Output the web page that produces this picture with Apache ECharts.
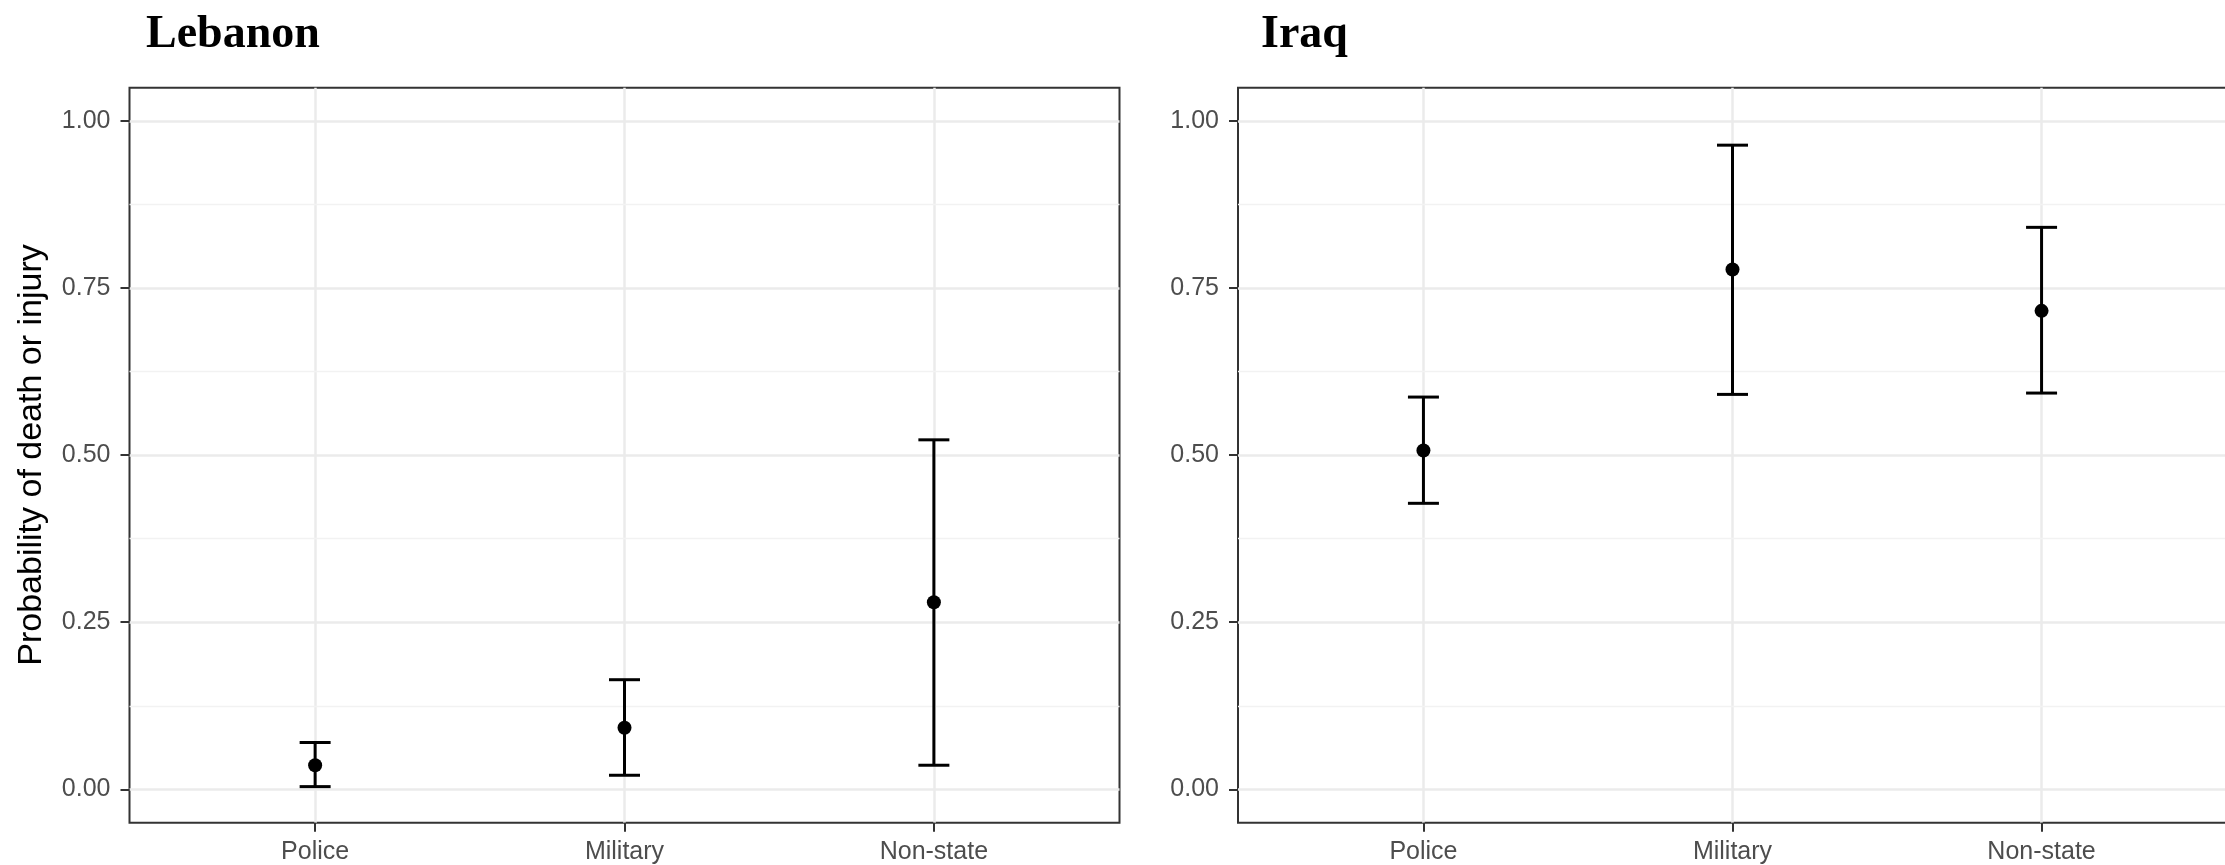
<!DOCTYPE html>
<html>
<head>
<meta charset="utf-8">
<script src="https://cdn.jsdelivr.net/npm/echarts@6/dist/echarts.min.js"></script>
<style>
html,body{margin:0;padding:0;background:#fff;}
#chart{width:2225px;height:865px;}
</style>
</head>
<body>
<div id="chart"></div>
<script>
const categories = ['Police', 'Military', 'Non-state'];
const panelTitles = ['Lebanon', 'Iraq'];
const yTickValues = [0, 0.25, 0.5, 0.75, 1];
const yMinorValues = [0.125, 0.375, 0.625, 0.875];

const lebanonEst  = [0.036, 0.092, 0.280];
const lebanonLow  = [0.004, 0.021, 0.036];
const lebanonHigh = [0.070, 0.164, 0.523];

const iraqEst  = [0.507, 0.778, 0.716];
const iraqLow  = [0.428, 0.591, 0.593];
const iraqHigh = [0.587, 0.964, 0.841];

const yAxisTitle = 'Probability of death or injury';

const panels = [
  {est: lebanonEst, low: lebanonLow, high: lebanonHigh},
  {est: iraqEst, low: iraqLow, high: iraqHigh}
];

const gridPos = [
  {left: 129.5, top: 87.7, width: 990, height: 735},
  {left: 1238, top: 87.7, width: 989, height: 735}
];

const catIdx = categories.map((c, i) => i);

const grids = gridPos.map(g => ({
  left: g.left, top: g.top, width: g.width, height: g.height,
  show: true, borderColor: '#333333', borderWidth: 2, backgroundColor: 'transparent',
  containLabel: false, outerBoundsMode: 'none'
}));

const xAxes = gridPos.map((g, k) => ({
  type: 'value', gridIndex: k, min: -0.6, max: 2.6, position: 'bottom',
  axisLine: {show: false, onZero: false},
  axisTick: {show: true, customValues: catIdx, length: 9, lineStyle: {color: '#333333', width: 2}},
  axisLabel: {show: true, customValues: catIdx, margin: 17, fontSize: 25, color: '#4D4D4D',
    fontFamily: 'Liberation Sans, Arial, sans-serif',
    formatter: v => categories[Math.round(v)] || ''},
  splitLine: {show: true, lineStyle: {color: '#EBEBEB', width: 2.5}}
}));

const yAxes = [];
gridPos.forEach((g, k) => {
  yAxes.push({
    type: 'value', gridIndex: k, min: -0.05, max: 1.05, position: 'left',
    axisLine: {show: false, onZero: false},
    axisTick: {show: true, customValues: yTickValues, length: 9, lineStyle: {color: '#333333', width: 2}},
    axisLabel: {show: true, customValues: yTickValues, margin: 19, fontSize: 25, color: '#4D4D4D',
      fontFamily: 'Liberation Sans, Arial, sans-serif',
      formatter: v => v.toFixed(2)},
    splitLine: {show: true, lineStyle: {color: '#EBEBEB', width: 2.5}},
    z: 2
  });
  yAxes.push({
    type: 'value', gridIndex: k, min: -0.05, max: 1.05, position: 'right',
    axisLine: {show: false, onZero: false},
    axisTick: {show: false, customValues: yMinorValues},
    axisLabel: {show: false, customValues: yMinorValues},
    splitLine: {show: true, lineStyle: {color: '#F2F2F2', width: 1.3}},
    z: 1
  });
});

const series = [];
panels.forEach((p, k) => {
  series.push({
    type: 'custom', xAxisIndex: k, yAxisIndex: 2 * k,
    data: catIdx.map(i => [i, p.low[i], p.high[i]]),
    renderItem: (params, api) => {
      const x = api.value(0);
      const top = api.coord([x, api.value(2)]);
      const bot = api.coord([x, api.value(1)]);
      const half = 15.5;
      const st = {stroke: '#000000', lineWidth: 3};
      return {type: 'group', children: [
        {type: 'line', shape: {x1: top[0], y1: top[1], x2: bot[0], y2: bot[1]}, style: st},
        {type: 'line', shape: {x1: top[0] - half, y1: top[1], x2: top[0] + half, y2: top[1]}, style: st},
        {type: 'line', shape: {x1: bot[0] - half, y1: bot[1], x2: bot[0] + half, y2: bot[1]}, style: st}
      ]};
    },
    z: 5
  });
  series.push({
    type: 'scatter', xAxisIndex: k, yAxisIndex: 2 * k,
    data: catIdx.map(i => [i, p.est[i]]),
    symbol: 'circle', symbolSize: 14,
    itemStyle: {color: '#000000', opacity: 1},
    z: 6
  });
});

const titleFont = 'bold 46px "Liberation Serif", "DejaVu Serif", serif';
const graphics = [
  {type: 'text', left: 146, top: 12, style: {text: panelTitles[0], font: titleFont, fill: '#000'}},
  {type: 'text', left: 1261, top: 12, style: {text: panelTitles[1], font: titleFont, fill: '#000'}},
  {type: 'text', x: 32, y: 455, rotation: Math.PI / 2,
    style: {text: yAxisTitle, font: '34px "Liberation Sans", Arial, sans-serif', fill: '#000', align: 'center', verticalAlign: 'middle'}}
];

const chart = echarts.init(document.getElementById('chart'), null, {renderer: 'canvas'});
chart.setOption({
  backgroundColor: '#ffffff',
  animation: false,
  grid: grids,
  xAxis: xAxes,
  yAxis: yAxes,
  series: series,
  graphic: graphics
});
</script>
</body>
</html>
